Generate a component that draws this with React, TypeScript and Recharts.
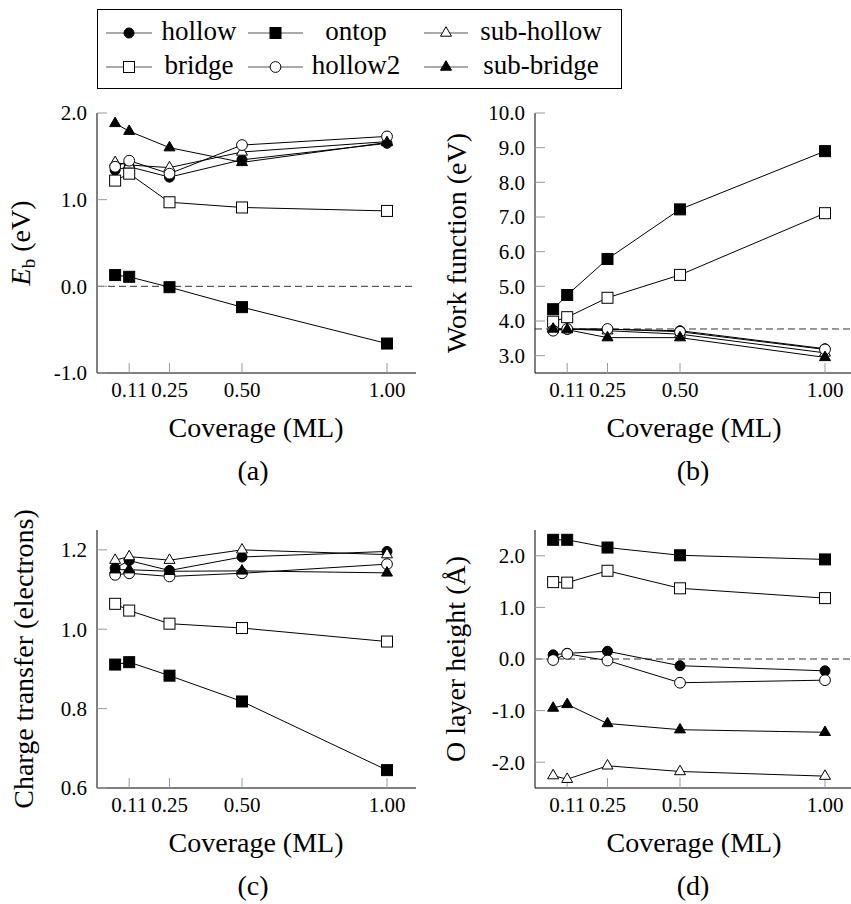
import React from 'react';
import { LineChart, Line, XAxis, YAxis, ReferenceLine } from 'recharts';

// coverage (ML) of the computed points
const COVERAGE = [0.0625, 0.111, 0.25, 0.5, 1.0];
const X_TICKS = [0.111, 0.25, 0.5, 1.0];

type Kind = 'hollow' | 'ontop' | 'subHollow' | 'bridge' | 'hollow2' | 'subBridge';

// draw order = legend order
const KINDS: Kind[] = ['hollow', 'ontop', 'subHollow', 'bridge', 'hollow2', 'subBridge'];
const NAMES: Record<Kind, string> = {
  hollow: 'hollow',
  ontop: 'ontop',
  subHollow: 'sub-hollow',
  bridge: 'bridge',
  hollow2: 'hollow2',
  subBridge: 'sub-bridge',
};

// (a) binding energy (eV)
const EB: Record<Kind, number[]> = {
  hollow: [1.34, 1.38, 1.26, 1.46, 1.65],
  ontop: [0.13, 0.11, -0.01, -0.24, -0.66],
  subHollow: [1.43, 1.40, 1.37, 1.55, 1.67],
  bridge: [1.22, 1.30, 0.97, 0.91, 0.87],
  hollow2: [1.38, 1.45, 1.30, 1.63, 1.73],
  subBridge: [1.88, 1.79, 1.60, 1.43, 1.66],
};

// (b) work function (eV)
const WF: Record<Kind, number[]> = {
  hollow: [3.74, 3.76, 3.76, 3.72, 3.20],
  ontop: [4.34, 4.75, 5.79, 7.22, 8.90],
  subHollow: [3.78, 3.77, 3.72, 3.62, 3.08],
  bridge: [3.98, 4.11, 4.67, 5.33, 7.11],
  hollow2: [3.72, 3.77, 3.77, 3.69, 3.18],
  subBridge: [3.77, 3.75, 3.52, 3.52, 2.95],
};
const WF_CLEAN = 3.77;

// (c) charge transfer (electrons)
const CT: Record<Kind, number[]> = {
  hollow: [1.154, 1.173, 1.148, 1.182, 1.196],
  ontop: [0.911, 0.917, 0.883, 0.818, 0.645],
  subHollow: [1.174, 1.183, 1.174, 1.2, 1.188],
  bridge: [1.064, 1.047, 1.014, 1.003, 0.969],
  hollow2: [1.137, 1.141, 1.133, 1.141, 1.164],
  subBridge: [1.15, 1.15, 1.146, 1.147, 1.142],
};

// (d) O layer height (Å)
const OH: Record<Kind, number[]> = {
  hollow: [0.08, 0.11, 0.15, -0.13, -0.23],
  ontop: [2.31, 2.31, 2.16, 2.01, 1.93],
  subHollow: [-2.26, -2.33, -2.07, -2.18, -2.27],
  bridge: [1.49, 1.48, 1.71, 1.37, 1.18],
  hollow2: [-0.02, 0.10, -0.03, -0.46, -0.41],
  subBridge: [-0.95, -0.88, -1.25, -1.37, -1.42],
};

const toRows = (d: Record<Kind, number[]>) =>
  COVERAGE.map((x, i) => {
    const row: any = { x };
    KINDS.forEach((k) => (row[k] = d[k][i]));
    return row;
  });

const TICK_GRAY = '#9a9a9a';
const FONT = "Tinos, 'Times New Roman', Times, 'Liberation Serif', 'DejaVu Serif', 'Noto Serif', Georgia, serif";

function Marker({ kind, cx, cy }: { kind: Kind; cx: number; cy: number }) {
  const tri = `${cx},${cy - 6.3} ${cx - 5.5},${cy + 3.2} ${cx + 5.5},${cy + 3.2}`;
  switch (kind) {
    case 'hollow':
      return <circle cx={cx} cy={cy} r={5} fill="#000" stroke="#000" strokeWidth={1} />;
    case 'hollow2':
      return <circle cx={cx} cy={cy} r={5.4} fill="#fff" stroke="#000" strokeWidth={1} />;
    case 'ontop':
      return <rect x={cx - 5.5} y={cy - 5.5} width={11} height={11} fill="#000" stroke="#000" strokeWidth={1} />;
    case 'bridge':
      return <rect x={cx - 5.5} y={cy - 5.5} width={11} height={11} fill="#fff" stroke="#000" strokeWidth={1} />;
    case 'subHollow':
      return <polygon points={tri} fill="#fff" stroke="#000" strokeWidth={1} />;
    default:
      return <polygon points={tri} fill="#000" stroke="#000" strokeWidth={1} />;
  }
}

const dotFor = (kind: Kind) => (p: any) => {
  if (p.cx == null || p.cy == null) return <g key={`${kind}-${p.index}`} />;
  return (
    <g key={`${kind}-${p.index}`}>
      <Marker kind={kind} cx={p.cx} cy={p.cy} />
    </g>
  );
};

interface PanelProps {
  left: number;
  top: number;
  boxLeft: number;
  boxTop: number;
  boxBottom: number;
  rows: any[];
  yDomain: [number, number];
  yTicks: number[];
  yDigits: number;
  dashY?: number;
}

const CW = 430;
const CH = 310;
const BOX_W = 319;

function Panel({ left, top, boxLeft, boxTop, boxBottom, rows, yDomain, yTicks, yDigits, dashY }: PanelProps) {
  const margin = {
    left: boxLeft - left - 60,
    top: boxTop - top,
    right: CW - (boxLeft - left) - BOX_W,
    bottom: CH - (boxBottom - top) - 30,
  };
  return (
    <div style={{ position: 'absolute', left, top }}>
      <LineChart width={CW} height={CH} data={rows} margin={margin} style={{ fontFamily: FONT }}>
        <XAxis
          dataKey="x"
          type="number"
          domain={[0, 1.1]}
          ticks={X_TICKS}
          interval={0}
          allowDataOverflow
          height={30}
          tickSize={-10}
          tickMargin={19}
          tickFormatter={(v: number) => v.toFixed(2)}
          tick={{ fontSize: 21, fill: '#000', fontFamily: FONT }}
          tickLine={{ stroke: TICK_GRAY }}
          axisLine={{ stroke: '#000' }}
        />
        <XAxis
          xAxisId="top"
          orientation="top"
          type="number"
          domain={[0, 1.1]}
          ticks={X_TICKS}
          interval={0}
          allowDataOverflow
          height={0}
          tickSize={-10}
          tickFormatter={() => ''}
          tickLine={{ stroke: TICK_GRAY }}
          axisLine={{ stroke: '#000' }}
        />
        <YAxis
          type="number"
          domain={yDomain}
          ticks={yTicks}
          interval={0}
          allowDataOverflow
          width={60}
          tickSize={-10}
          tickMargin={20}
          tickFormatter={(v: number) => v.toFixed(yDigits)}
          tick={{ fontSize: 21, fill: '#000', fontFamily: FONT }}
          tickLine={{ stroke: TICK_GRAY }}
          axisLine={{ stroke: '#000' }}
        />
        <YAxis
          yAxisId="right"
          orientation="right"
          type="number"
          domain={yDomain}
          ticks={yTicks}
          interval={0}
          allowDataOverflow
          width={0}
          tickSize={-10}
          tickFormatter={() => ''}
          tickLine={{ stroke: TICK_GRAY }}
          axisLine={{ stroke: '#000' }}
        />
        {dashY !== undefined && (
          <ReferenceLine y={dashY} stroke="#333" strokeWidth={1} strokeDasharray="7 4" />
        )}
        {KINDS.map((k) => (
          <Line
            key={k}
            dataKey={k}
            stroke="#000"
            strokeWidth={1}
            dot={dotFor(k)}
            activeDot={false}
            isAnimationActive={false}
          />
        ))}
      </LineChart>
    </div>
  );
}

const LEGEND_COLS = [
  { x1: 106, x2: 152, tc: 199 },
  { x1: 248, x2: 303, tc: 356 },
  { x1: 424, x2: 468, tc: 541 },
];
const LEGEND_BASE = [40, 74];

function Overlay() {
  return (
    <svg
      width={851}
      height={904}
      fontFamily={FONT}
      style={{ position: 'absolute', left: 0, top: 0, pointerEvents: 'none' }}
    >
      {/* legend */}
      <rect x={97.5} y={9.5} width={524} height={79} fill="#fff" stroke="#000" strokeWidth={1} />
      {KINDS.map((k, i) => {
        const col = LEGEND_COLS[i % 3];
        const base = LEGEND_BASE[Math.floor(i / 3)];
        const my = base - 7;
        return (
          <g key={k}>
            <line x1={col.x1} x2={col.x2} y1={my} y2={my} stroke="#555" strokeWidth={1} />
            <Marker kind={k} cx={(col.x1 + col.x2) / 2} cy={my} />
            <text x={col.tc} y={base} fontSize={27} textAnchor="middle" fill="#000">
              {NAMES[k]}
            </text>
          </g>
        );
      })}

      {/* x labels */}
      <text x={256} y={437} fontSize={28} textAnchor="middle">Coverage (ML)</text>
      <text x={694} y={437} fontSize={28} textAnchor="middle">Coverage (ML)</text>
      <text x={256} y={852} fontSize={28} textAnchor="middle">Coverage (ML)</text>
      <text x={694} y={852} fontSize={28} textAnchor="middle">Coverage (ML)</text>

      {/* captions */}
      <text x={253} y={480} fontSize={28} textAnchor="middle">(a)</text>
      <text x={693} y={480} fontSize={28} textAnchor="middle">(b)</text>
      <text x={253} y={895} fontSize={28} textAnchor="middle">(c)</text>
      <text x={693} y={895} fontSize={28} textAnchor="middle">(d)</text>

      {/* y labels */}
      <text transform="translate(30,243) rotate(-90)" fontSize={28} textAnchor="middle">
        <tspan fontStyle="italic">E</tspan>
        <tspan fontSize={19} dy={5}>b</tspan>
        <tspan dy={-5}> (eV)</tspan>
      </text>
      <text transform="translate(466,243) rotate(-90)" fontSize={28} textAnchor="middle">
        Work function (eV)
      </text>
      <text transform="translate(33,659) rotate(-90)" fontSize={28} textAnchor="middle">
        Charge transfer (electrons)
      </text>
      <text transform="translate(465,659) rotate(-90)" fontSize={28} textAnchor="middle">
        O layer height (Å)
      </text>
    </svg>
  );
}

export default function App() {
  return (
    <div
      style={{
        position: 'absolute',
        left: 0,
        top: 0,
        width: 851,
        height: 904,
        overflow: 'hidden',
        background: '#fff',
        fontFamily: FONT,
      }}
    >
      <Panel left={0} top={100} boxLeft={97} boxTop={113} boxBottom={373}
        rows={toRows(EB)} yDomain={[-1, 2]} yTicks={[-1, 0, 1, 2]} yDigits={1} dashY={0} />
      <Panel left={425} top={100} boxLeft={535} boxTop={113} boxBottom={373}
        rows={toRows(WF)} yDomain={[2.5, 10]} yTicks={[3, 4, 5, 6, 7, 8, 9, 10]} yDigits={1} dashY={WF_CLEAN} />
      <Panel left={0} top={517} boxLeft={97} boxTop={530} boxBottom={788}
        rows={toRows(CT)} yDomain={[0.6, 1.25]} yTicks={[0.6, 0.8, 1.0, 1.2]} yDigits={1} />
      <Panel left={425} top={517} boxLeft={535} boxTop={530} boxBottom={788}
        rows={toRows(OH)} yDomain={[-2.5, 2.5]} yTicks={[-2, -1, 0, 1, 2]} yDigits={1} dashY={0} />
      <Overlay />
    </div>
  );
}
